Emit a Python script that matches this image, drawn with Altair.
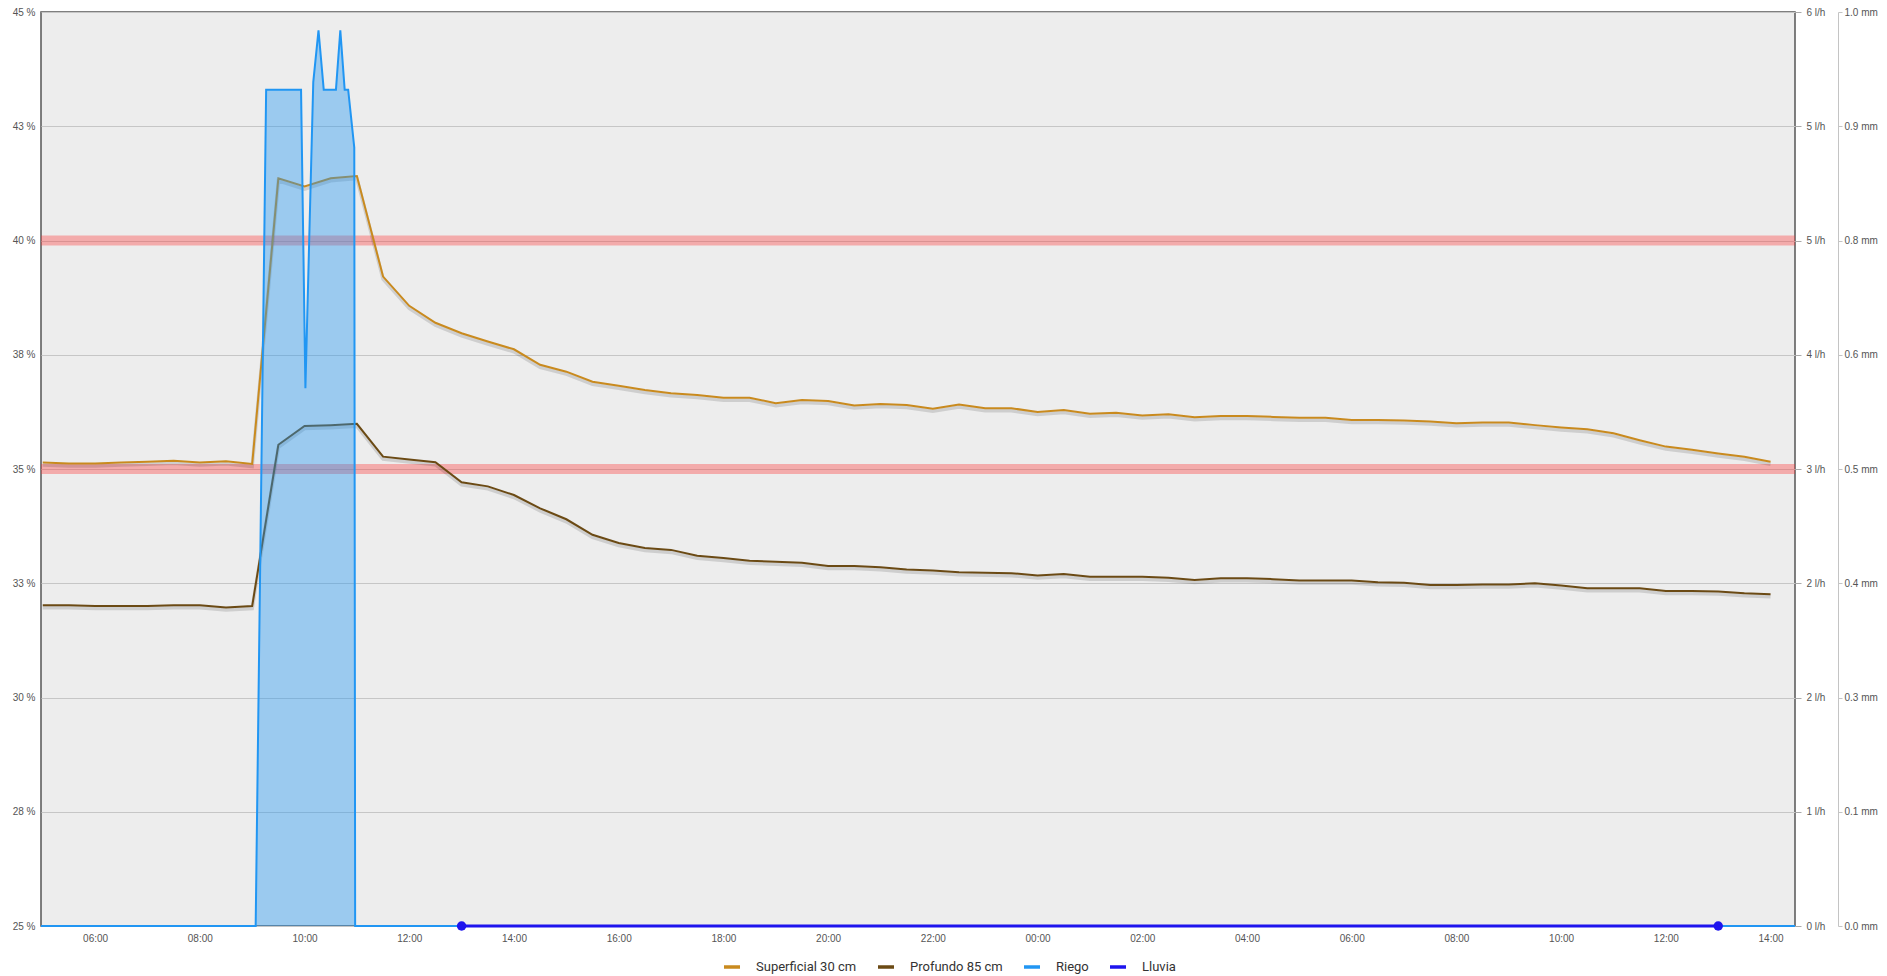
import altair as alt
import pandas as pd

# ---------------- data ----------------
series_names = ["Superficial 30 cm", "Profundo 85 cm", "Riego", "Lluvia"]
series_colors = ["#c98a1e", "#6b4a14", "#2196f3", "#1e14ee"]

# soil moisture readings every 30 min, 14-may 05:00 -> 15-may 14:00
sensor_start = "2024-05-14 05:00"
superficial = [35.14, 35.12, 35.12, 35.14, 35.16, 35.18, 35.14, 35.17, 35.11,
               41.36, 41.18, 41.36, 41.41, 39.21, 38.57, 38.20, 37.97, 37.79, 37.62,
               37.28, 37.13, 36.91, 36.82, 36.73, 36.66, 36.62, 36.56, 36.56, 36.44,
               36.51, 36.49, 36.39, 36.42, 36.40, 36.32, 36.41, 36.33, 36.33,
               36.25, 36.29, 36.21, 36.23, 36.17, 36.20, 36.13, 36.16, 36.16, 36.14,
               36.12, 36.12, 36.07, 36.07, 36.06, 36.04, 36.00, 36.02, 36.02, 35.96,
               35.91, 35.87, 35.78, 35.63, 35.49, 35.42, 35.34, 35.27, 35.16]
profundo = [32.02, 32.02, 32.00, 32.00, 32.00, 32.02, 32.02, 31.97, 32.00,
            35.53, 35.94, 35.96, 35.99, 35.27, 35.21, 35.15, 34.71, 34.62, 34.43,
            34.14, 33.90, 33.56, 33.38, 33.27, 33.23, 33.10, 33.05, 32.99, 32.97,
            32.95, 32.88, 32.88, 32.85, 32.80, 32.78, 32.74, 32.73, 32.72,
            32.67, 32.70, 32.64, 32.64, 32.64, 32.62, 32.57, 32.61, 32.61, 32.59,
            32.56, 32.56, 32.56, 32.52, 32.51, 32.46, 32.46, 32.47, 32.47, 32.50,
            32.45, 32.39, 32.39, 32.39, 32.33, 32.33, 32.32, 32.28, 32.26]

riego_times = ["2024-05-14 04:58", "2024-05-14 09:04", "2024-05-14 09:16", "2024-05-14 09:56",
               "2024-05-14 10:01", "2024-05-14 10:10", "2024-05-14 10:16", "2024-05-14 10:22",
               "2024-05-14 10:36", "2024-05-14 10:41", "2024-05-14 10:46", "2024-05-14 10:50",
               "2024-05-14 10:57", "2024-05-14 10:58", "2024-05-15 14:28"]
riego_lh = [0, 0, 5.49, 5.49, 3.53, 5.54, 5.88, 5.49, 5.49, 5.88, 5.49, 5.49, 5.11, 0, 0]

lluvia_times = ["2024-05-14 13:00", "2024-05-15 13:00"]
lluvia_mm = [0.0, 0.0]

thresholds = [40, 35]

pct_ticks = [25, 27.5, 30, 32.5, 35, 37.5, 40, 42.5, 45]
lh_ticks = [0, 0.75, 1.5, 2.25, 3, 3.75, 4.5, 5.25, 6]
mm_ticks = [0, 0.125, 0.25, 0.375, 0.5, 0.625, 0.75, 0.875, 1.0]
x_tick_hours = [(14, 6), (14, 8), (14, 10), (14, 12), (14, 14), (14, 16), (14, 18), (14, 20),
                (14, 22), (15, 0), (15, 2), (15, 4), (15, 6), (15, 8), (15, 10), (15, 12), (15, 14)]

# ---------------- tables ----------------
times = pd.date_range(sensor_start, periods=len(superficial), freq="30min").strftime("%Y-%m-%dT%H:%M:%S")
df_lines = pd.concat([
    pd.DataFrame({"t": times, "v": superficial, "serie": series_names[0]}),
    pd.DataFrame({"t": times, "v": profundo, "serie": series_names[1]}),
])
df_riego = pd.DataFrame({"t": [s.replace(" ", "T") + ":00" for s in riego_times], "v": riego_lh})
df_lluvia = pd.DataFrame({"t": [s.replace(" ", "T") + ":00" for s in lluvia_times], "v": lluvia_mm})
df_thr = pd.DataFrame({"v": thresholds})

x_domain = [alt.DateTime(year=2024, month=5, date=14, hours=4, minutes=58),
            alt.DateTime(year=2024, month=5, date=15, hours=14, minutes=28)]
x_values = [alt.DateTime(year=2024, month=5, date=d, hours=h) for d, h in x_tick_hours]

x_enc = alt.X("t:T", scale=alt.Scale(domain=x_domain),
              axis=alt.Axis(values=x_values, format="%H:%M", title=None, ticks=False,
                            domain=False, grid=False, labelPadding=7, labelColor="#555"))

pct_scale = alt.Scale(domain=[25, 45], nice=False, zero=False)
pct_axis = alt.Axis(orient="left", values=pct_ticks, title=None, ticks=False, domain=False,
                    grid=True, gridColor="#c6c6c6", gridWidth=1, labelPadding=6,
                    labelExpr="format(datum.value, '.0f') + ' %'")
y_pct = alt.Y("v:Q", scale=pct_scale, axis=pct_axis)

bands = alt.Chart(df_thr).mark_rule(color="#ff3232", opacity=0.35, strokeWidth=10).encode(y=y_pct)

shadow = alt.Chart(df_lines).mark_line(color="#000", opacity=0.13, strokeWidth=3.5, yOffset=2.5).encode(
    x=x_enc, y=y_pct, detail="serie:N")

lines = alt.Chart(df_lines).mark_line(strokeWidth=2).encode(
    x=x_enc, y=y_pct,
    color=alt.Color("serie:N", scale=alt.Scale(domain=series_names, range=series_colors),
                    legend=alt.Legend(orient="none", legendX=681, legendY=945, direction="horizontal",
                                      title=None, symbolType="stroke", symbolStrokeWidth=3.5,
                                      symbolSize=256, labelFont="Roboto", labelFontSize=13,
                                      labelColor="#333", labelOffset=14, columnPadding=14,
                                      padding=0)))

pct_layer = alt.layer(bands, shadow, lines)

y_lh = alt.Y("v:Q", scale=alt.Scale(domain=[0, 6], nice=False),
             axis=alt.Axis(orient="right", values=lh_ticks, title=None, grid=False, domain=False,
                           tickSize=6, tickColor="#aaa", labelPadding=5,
                           labelExpr="format(datum.value, '.0f') + ' l/h'"))
riego_area = alt.Chart(df_riego).mark_area(color="#2196f3", opacity=0.4).encode(x=x_enc, y=y_lh)
riego_line = alt.Chart(df_riego).mark_line(color="#2196f3", strokeWidth=2).encode(x=x_enc, y=y_lh)
riego_layer = alt.layer(riego_area, riego_line)

y_mm = alt.Y("v:Q", scale=alt.Scale(domain=[0, 1], nice=False),
             axis=alt.Axis(orient="right", offset=43, values=mm_ticks, title=None, grid=False,
                           domain=True, domainColor="#c4c4c4", tickSize=4, tickColor="#c4c4c4",
                           labelPadding=2, labelExpr="format(datum.value, '.1f') + ' mm'"))
lluvia_line = alt.Chart(df_lluvia).mark_line(color=series_colors[3], strokeWidth=3).encode(x=x_enc, y=y_mm)
lluvia_pts = alt.Chart(df_lluvia).mark_circle(color=series_colors[3], size=90, opacity=1).encode(x=x_enc, y=y_mm)
lluvia_layer = alt.layer(lluvia_line, lluvia_pts)

chart = alt.layer(pct_layer, riego_layer, lluvia_layer).resolve_scale(y="independent").properties(
    width=1754, height=914,
    autosize=alt.AutoSizeParams(type="none"),
    padding={"left": 33, "top": 4, "right": 84, "bottom": 48},
    background="white",
).configure_view(fill="#ededed", stroke="#555", strokeWidth=1.5).configure_axis(
    labelFont="Liberation Sans", labelFontSize=10, labelColor="#555")

chart.save("out.html", embed_options={"renderer": "svg", "actions": False})
